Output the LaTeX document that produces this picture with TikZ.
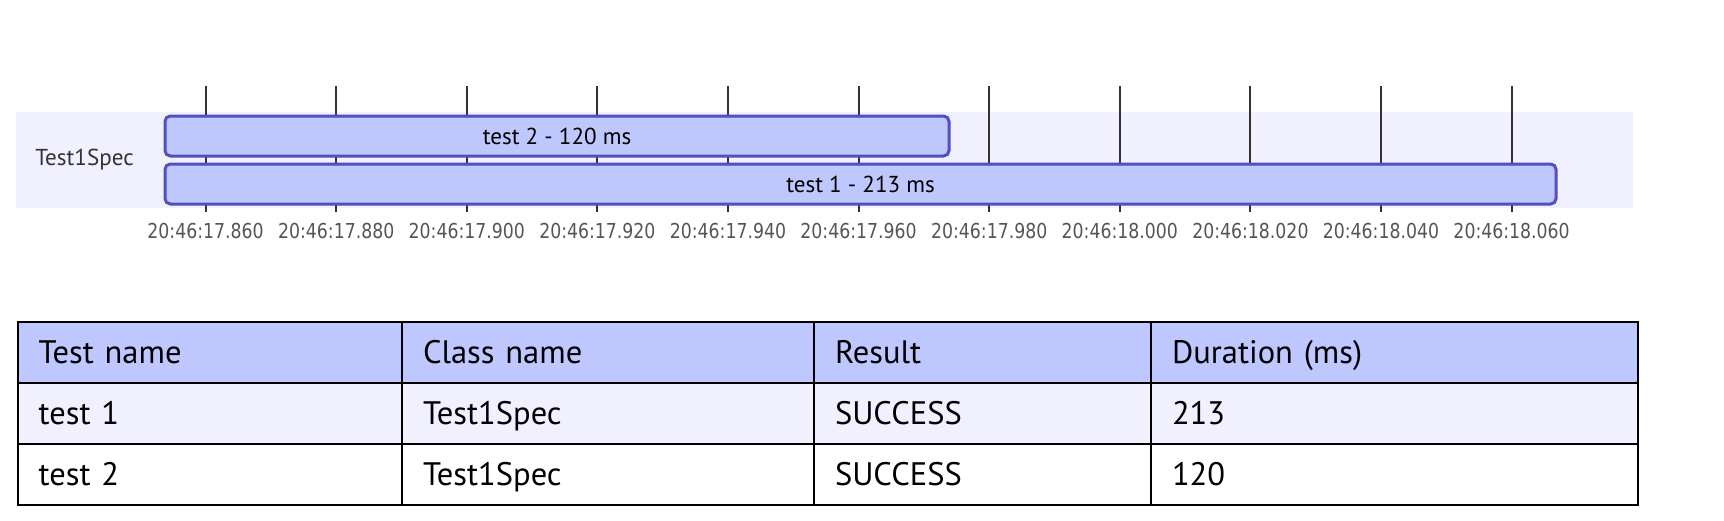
\documentclass[tikz,border=0pt]{standalone}
\usepackage{fontspec}
\setmainfont{PT Sans}
\newfontfamily\axisfont[FakeStretch=0.84]{DejaVu Sans}
\definecolor{barfill}{HTML}{BFC7FF}
\definecolor{barline}{HTML}{534FBC}
\definecolor{bandfill}{HTML}{F0F0FF}
\definecolor{rowfill}{HTML}{F0F0FF}
\definecolor{tickcol}{HTML}{333333}
\definecolor{ticktext}{HTML}{555555}
\begin{document}
\begin{tikzpicture}[x=0.75pt,y=-0.75pt,
  chartfont/.style={font=\fontsize{17.3}{20}\selectfont,text height=13pt,text depth=1pt},
  tablefont/.style={font=\fontsize{24.4}{29}\selectfont},
  ticklbl/.style={font=\axisfont\fontsize{15.45}{18}\selectfont,text=ticktext,inner sep=0pt,
    text height=12pt,text depth=0.7pt},
  tickline/.style={draw=tickcol,line width=1.5pt},
  bar/.style={draw=barline,fill=barfill,line width=2.25pt,rounded corners=4pt,
    chartfont,text=black,inner xsep=0pt,inner ysep=0pt,minimum height=30pt},
  cell/.style={draw=black,line width=1.5pt,anchor=north west,tablefont,
    align=left,inner xsep=15.75pt,inner ysep=0pt,minimum height=45.75pt,
    text height=20pt,text depth=3pt},
]
\useasboundingbox (0,0) rectangle (1724,521);
% band
\fill[bandfill] (16,112) rectangle (1632.8,208);
\node[chartfont,text=tickcol,inner sep=0pt] (sec) at (84.5,157) {Test1Spec};
% ticks
\foreach \k/\t in {0/17.860,1/17.880,2/17.900,3/17.920,4/17.940,5/17.960,6/17.980,7/18.000,8/18.020,9/18.040,10/18.060}{
  \coordinate (tt\k) at ({205.6+130.6*\k},86);
  \coordinate (tb\k) at ({205.6+130.6*\k},211.7);
  \draw[tickline] (tt\k) -- (tb\k);
  \node[ticklbl] (tl\k) at ({205.6+130.6*\k},230.8) {20:46:\t};
}
% bars
\node[bar,minimum width=588pt] (b2) at (557,136) {test 2 - 120 ms};
\node[bar,minimum width=1043.25pt] (b1) at (860.5,184) {test 1 - 213 ms};
% table
\node[cell,fill=barfill,text width=256.7pt] (h1) at (16.7,321) {Test name};
\node[cell,fill=barfill,text width=277.5pt] (h2) at (401,321) {Class name};
\node[cell,fill=barfill,text width=221.25pt] (h3) at (813,321) {Result};
\node[cell,fill=barfill,text width=333.75pt] (h4) at (1150,321) {Duration (ms)};
\node[cell,fill=rowfill,text width=256.7pt] (a1) at (16.7,382) {test 1};
\node[cell,fill=rowfill,text width=277.5pt] (a2) at (401,382) {Test1Spec};
\node[cell,fill=rowfill,text width=221.25pt] (a3) at (813,382) {SUCCESS};
\node[cell,fill=rowfill,text width=333.75pt] (a4) at (1150,382) {213};
\node[cell,fill=white,text width=256.7pt] (c1) at (16.7,443) {test 2};
\node[cell,fill=white,text width=277.5pt] (c2) at (401,443) {Test1Spec};
\node[cell,fill=white,text width=221.25pt] (c3) at (813,443) {SUCCESS};
\node[cell,fill=white,text width=333.75pt] (c4) at (1150,443) {120};
\end{tikzpicture}
\end{document}
